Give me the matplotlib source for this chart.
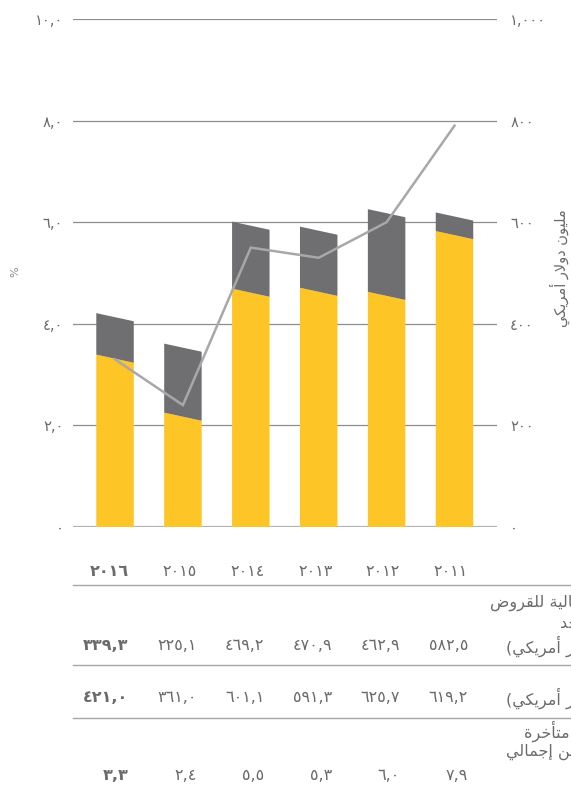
"""Loan portfolio chart: disbursed vs. outstanding loans with arrears ratio (Arabic)."""

import matplotlib

matplotlib.use("Agg")
import matplotlib.pyplot as plt
from matplotlib.lines import Line2D
from matplotlib.transforms import blended_transform_factory

plt.rcParams["font.family"] = ["DejaVu Sans"]

YEARS = ["٢٠١٦", "٢٠١٥", "٢٠١٤", "٢٠١٣", "٢٠١٢", "٢٠١١"]
DISBURSED = [339.3, 225.1, 469.2, 470.9, 462.9, 582.5]     # yellow part, USD m
OUTSTANDING = [421.0, 361.0, 601.1, 591.3, 625.7, 619.2]   # full bar, USD m
ARREARS_PCT = [3.3, 2.4, 5.5, 5.3, 6.0, 7.9]               # line, %

LEFT_TICKS = [0, 2, 4, 6, 8, 10]
RIGHT_TICKS = [0, 200, 400, 600, 800, 1000]

ROW1_LABEL = ["القيمة الإجمالية للقروض", "الممولة خلال العام الواحد", "(مليون دولار أمريكي)"]
ROW2_LABEL = ["إجمالي محفظة القروض (مليون دولار أمريكي)"]
ROW3_LABEL = ["نسبة القروض التي أصبحت متأخرة", "كنسبة مئوية من إجمالي"]
RIGHT_AXIS_LABEL = "مليون دولار أمريكي"

_YELLOW = "#FEC526"
_DARK = "#6F6F71"
_LINE = "#A8A8A8"
_TEXT = "#6B6B6B"
_GRID = "#8E8E8E"

W, H = 571, 790

# Arabic Presentation Forms-B: base (isolated) codepoint, and whether the
# letter can join to the following one. Forms are iso/fin/ini/med = +0/+1/+2/+3.
_FORMS = {
    "آ": (0xFE81, False), "أ": (0xFE83, False), "ؤ": (0xFE85, False),
    "إ": (0xFE87, False), "ئ": (0xFE89, True), "ا": (0xFE8D, False),
    "ب": (0xFE8F, True), "ة": (0xFE93, False), "ت": (0xFE95, True),
    "ث": (0xFE99, True), "ج": (0xFE9D, True), "ح": (0xFEA1, True),
    "خ": (0xFEA5, True), "د": (0xFEA9, False), "ذ": (0xFEAB, False),
    "ر": (0xFEAD, False), "ز": (0xFEAF, False), "س": (0xFEB1, True),
    "ش": (0xFEB5, True), "ص": (0xFEB9, True), "ض": (0xFEBD, True),
    "ط": (0xFEC1, True), "ظ": (0xFEC5, True), "ع": (0xFEC9, True),
    "غ": (0xFECD, True), "ف": (0xFED1, True), "ق": (0xFED5, True),
    "ك": (0xFED9, True), "ل": (0xFEDD, True), "م": (0xFEE1, True),
    "ن": (0xFEE5, True), "ه": (0xFEE9, True), "و": (0xFEED, False),
    "ى": (0xFEEF, False), "ي": (0xFEF1, True),
}
_LAM_ALEF = {"آ": 0xFEF5, "أ": 0xFEF7, "إ": 0xFEF9, "ا": 0xFEFB}
_DIGITS = str.maketrans("0123456789", "٠١٢٣٤٥٦٧٨٩")


def ar(text: str) -> str:
    """Shape Arabic letters and put them in visual (left-to-right) order."""
    units = []
    i = 0
    while i < len(text):
        c = text[i]
        if c == "ل" and i + 1 < len(text) and text[i + 1] in _LAM_ALEF:
            units.append((True, _LAM_ALEF[text[i + 1]], False))
            i += 2
            continue
        if c in _FORMS:
            base, dual = _FORMS[c]
            units.append((True, base, dual))
        else:
            units.append((False, c, False))
        i += 1

    out = []
    for k, (is_letter, val, dual) in enumerate(units):
        if not is_letter:
            out.append(val)
            continue
        prev = units[k - 1] if k > 0 else None
        nxt = units[k + 1] if k + 1 < len(units) else None
        join_prev = prev is not None and prev[0] and prev[2]
        join_next = dual and nxt is not None and nxt[0]
        out.append(chr(val + int(join_prev) + 2 * int(join_next)))
    return "".join(reversed(out)).translate(str.maketrans("()", ")("))


def num(v: float, fmt: str = "{:.1f}") -> str:
    """Arabic-Indic digits with a comma as decimal / thousands mark."""
    return fmt.format(v).replace(".", ",").translate(_DIGITS)


def fy(px: float) -> float:
    return 1 - px / H


fig = plt.figure(figsize=(W / 100, H / 100), dpi=100)
ax = fig.add_axes([73 / W, fy(527), (497 - 73) / W, (527 - 19) / H])
ax2 = ax.twinx()

x = list(range(len(YEARS)))
ax.set_xlim(-0.619, 5.626)
ax.set_ylim(0, 10)
ax2.set_ylim(0, 1000)

# gridlines behind the bars
for t in RIGHT_TICKS:
    if t == 0:
        ax2.axhline(t, color="#B4B4B4", lw=1.6, zorder=1)
    else:
        ax2.axhline(t, color=_GRID, lw=0.9, zorder=1)

# bars with slanted tops (right edge sits a little lower than the left)
half = 0.276
slant = 16
for xi, lo, hi in zip(x, DISBURSED, OUTSTANDING):
    xl, xr = xi - half, xi + half
    ax2.fill([xl, xr, xr, xl], [0, 0, lo - slant, lo], color=_YELLOW, lw=0, zorder=2)
    ax2.fill([xl, xr, xr, xl], [lo, lo - slant, hi - slant, hi], color=_DARK, lw=0, zorder=2)

# arrears ratio line on top of the bars
ax.set_zorder(ax2.get_zorder() + 1)
ax.patch.set_visible(False)
ax.plot(x, ARREARS_PCT, color=_LINE, lw=1.8, solid_joinstyle="miter", zorder=3)

for a in (ax, ax2):
    for s in a.spines.values():
        s.set_visible(False)
ax.set_xticks([])
ax.set_yticks(LEFT_TICKS, ["٠" if t == 0 else num(t) for t in LEFT_TICKS])
ax2.set_yticks(RIGHT_TICKS, [num(t, "{:,.0f}") for t in RIGHT_TICKS])
ax.tick_params(axis="y", length=0, pad=7, labelsize=10.5, labelcolor=_TEXT)
ax2.tick_params(axis="y", length=0, pad=9.5, labelsize=10.5, labelcolor=_TEXT)

fig.text(15 / W, fy(272), "%", rotation=90, ha="center", va="center",
         fontsize=8, color="#8A8A8A")
fig.text(560 / W, fy(268), ar(RIGHT_AXIS_LABEL), rotation=90, ha="center",
         va="center", fontsize=10.5, color=_TEXT)

# table under the chart
tr = blended_transform_factory(ax.transData, fig.transFigure)
col_x = [xi + 0.2 for xi in x]


def row(values, y_px, fmt=num):
    for i, (cx, v) in enumerate(zip(col_x, values)):
        fig.text(cx, fy(y_px), fmt(v), transform=tr, ha="right", va="center",
                 fontsize=11.5, color=_TEXT,
                 fontweight="bold" if i == 0 else "normal")


row(YEARS, 571, fmt=lambda s: s)
row(DISBURSED, 646)
row(OUTSTANDING, 698)
row(ARREARS_PCT, 775)

for y_px in (585, 665, 718):
    fig.add_artist(Line2D([73 / W, 1], [fy(y_px)] * 2, transform=fig.transFigure,
                          color="#A6A6A6", lw=1.0))

# row captions run past the right edge of the page
label_kw = dict(ha="left", va="center", fontsize=11.5, color=_TEXT)
for (lx, ly), line in zip([(490, 603), (560, 624), (506, 646)], ROW1_LABEL):
    fig.text(lx / W, fy(ly), ar(line), **label_kw)
for (lx, ly), line in zip([(506, 698)], ROW2_LABEL):
    fig.text(lx / W, fy(ly), ar(line), **label_kw)
for (lx, ly), line in zip([(524, 731), (506, 752)], ROW3_LABEL):
    fig.text(lx / W, fy(ly), ar(line), **label_kw)

fig.savefig("out.png", dpi=100)
